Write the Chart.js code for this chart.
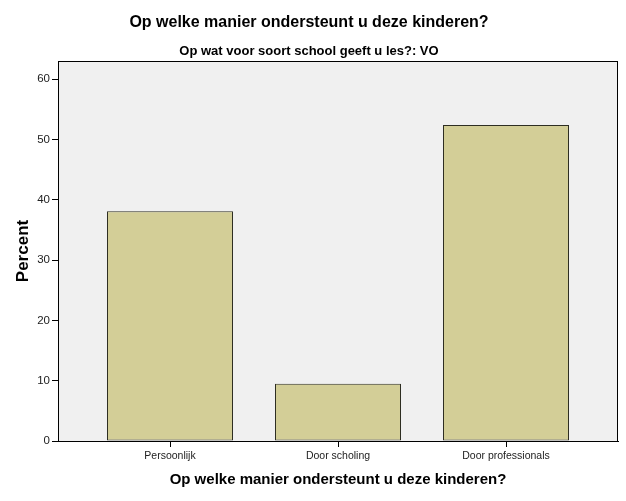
<!DOCTYPE html>
<html>
<head>
<meta charset="utf-8">
<script src="https://cdn.jsdelivr.net/npm/chart.js@4/dist/chart.umd.min.js"></script>
<style>
  html, body { margin: 0; padding: 0; background: #fff; }
</style>
</head>
<body>
<canvas id="chart" width="626" height="501"></canvas>
<script>
// Data
const categories = ["Persoonlijk", "Door scholing", "Door professionals"];
const percentValues = [38.1, 9.5, 52.4];
const yTicks = [0, 10, 20, 30, 40, 50, 60];

const chartTitle = "Op welke manier ondersteunt u deze kinderen?";
const chartSubtitle = "Op wat voor soort school geeft u les?: VO";
const xTitle = "Op welke manier ondersteunt u deze kinderen?";
const yTitle = "Percent";

const FONT = "'Liberation Sans', Arial, sans-serif";

// Grey plot background with a black frame round the chart area
const plotFrame = {
  id: "plotFrame",
  beforeDraw(chart) {
    const { ctx, chartArea: a } = chart;
    ctx.save();
    ctx.fillStyle = "#f0f0f0";
    ctx.fillRect(a.left, a.top, a.right - a.left, a.bottom - a.top);
    ctx.restore();
  },
  afterDraw(chart) {
    const { ctx, chartArea: a } = chart;
    ctx.save();
    ctx.strokeStyle = "#000";
    ctx.lineWidth = 1;
    ctx.strokeRect(Math.round(a.left) + 0.5, Math.round(a.top) + 0.5,
      Math.round(a.right - a.left) - 1, Math.round(a.bottom - a.top));
    ctx.restore();
  }
};

const ctx = document.getElementById("chart").getContext("2d");
new Chart(ctx, {
  type: "bar",
  data: {
    datasets: [{
      data: percentValues.map((v, i) => ({ x: i, y: v })),
      backgroundColor: "#d3ce97",
      borderColor: "#2e2e22",
      borderWidth: 1,
      borderSkipped: false,
      barPercentage: 0.75,
      categoryPercentage: 1
    }]
  },
  options: {
    responsive: false,
    animation: false,
    layout: { padding: { left: 0, right: 8, top: 0, bottom: 0 } },
    plugins: {
      legend: { display: false },
      tooltip: { enabled: false },
      title: {
        display: true,
        text: chartTitle,
        color: "#000",
        font: { family: FONT, size: 16, weight: "bold" },
        padding: { top: 13, bottom: 8 }
      },
      subtitle: {
        display: true,
        text: chartSubtitle,
        color: "#000",
        font: { family: FONT, size: 13, weight: "bold" },
        padding: { top: 3.5, bottom: 1.7 }
      }
    },
    scales: {
      x: {
        type: "linear",
        min: -2 / 3,
        max: 8 / 3,
        offset: false,
        afterBuildTicks: (scale) => {
          scale.ticks = categories.map((_, i) => ({ value: i }));
        },
        afterFit: (scale) => { scale.height = 60; },
        ticks: {
          callback: (v) => categories[v],
          color: "#222",
          font: { family: FONT, size: 10.5 },
          padding: 3,
          maxRotation: 0
        },
        grid: {
          offset: false,
          drawOnChartArea: false,
          drawTicks: true,
          tickLength: 6,
          tickColor: "#000"
        },
        border: { display: true, color: "#000" },
        title: {
          display: true,
          text: xTitle,
          color: "#000",
          font: { family: FONT, size: 15, weight: "bold" },
          padding: { top: 0, bottom: 12 }
        }
      },
      y: {
        min: 0,
        max: 63,
        afterBuildTicks: (scale) => {
          scale.ticks = yTicks.map((v) => ({ value: v }));
        },
        afterFit: (scale) => { scale.width = 58; },
        ticks: {
          color: "#222",
          font: { family: FONT, size: 11.5 },
          padding: 2
        },
        grid: {
          drawOnChartArea: false,
          drawTicks: true,
          tickLength: 6,
          tickColor: "#000"
        },
        border: { display: true, color: "#000" },
        title: {
          display: true,
          text: yTitle,
          color: "#000",
          font: { family: FONT, size: 17, weight: "bold" },
          padding: { top: 13, bottom: 0 }
        }
      }
    }
  },
  plugins: [plotFrame]
});
</script>
</body>
</html>
